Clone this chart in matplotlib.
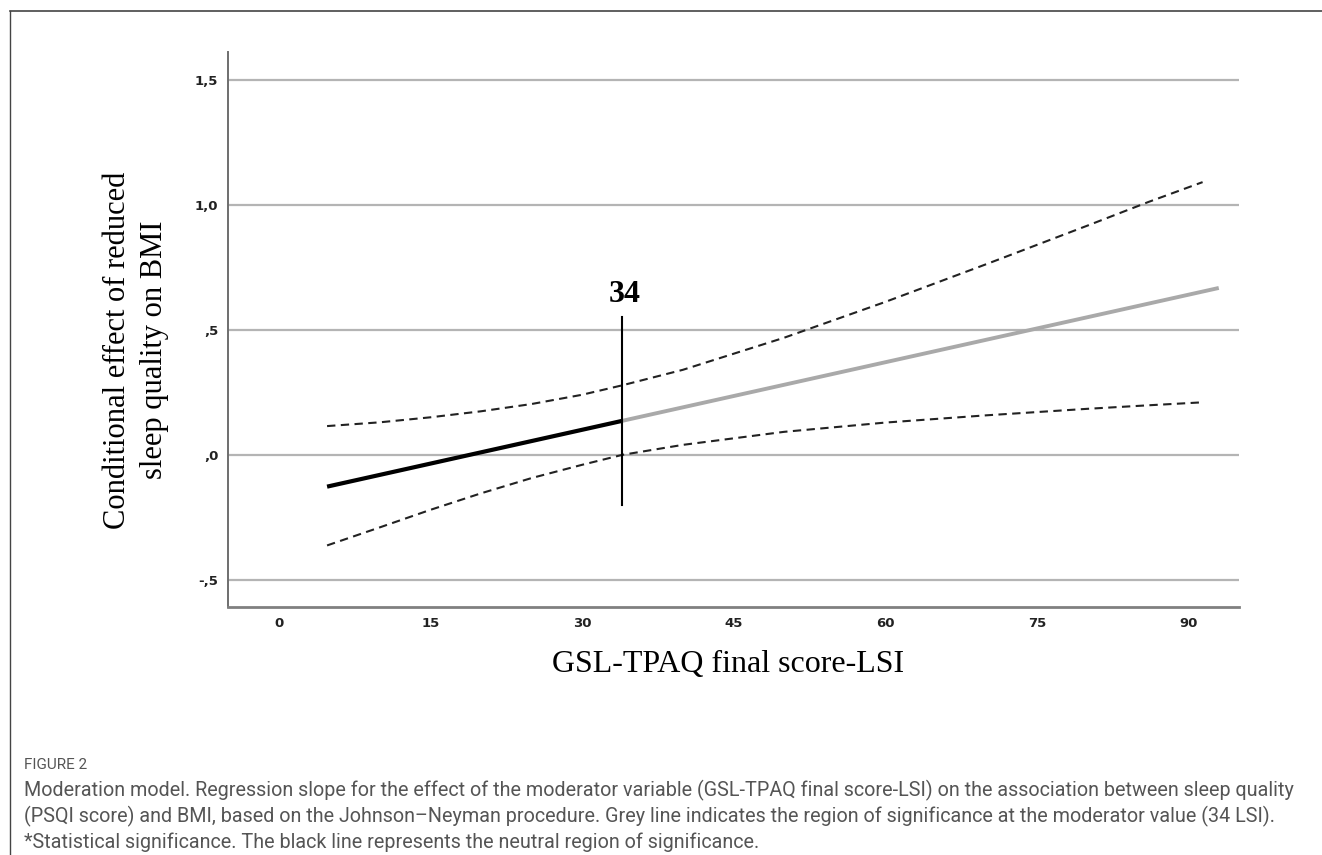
import matplotlib
matplotlib.use("Agg")
import matplotlib.pyplot as plt
from matplotlib.lines import Line2D

# ---- data ----
x_neutral = [4.8, 34.0]                 # black segment (non-significant region)
effect_neutral = [-0.127, 0.136]
x_signif = [34.0, 93.0]                 # grey segment (region of significance)
effect_signif = [0.136, 0.667]

x_ci = [4.8, 10, 15, 20, 25, 30, 34, 40, 50, 60, 70, 80, 86, 91.4]
ci_upper = [0.115, 0.130, 0.150, 0.174, 0.203, 0.240, 0.278, 0.340, 0.468, 0.611, 0.762, 0.916, 1.010, 1.090]
ci_lower = [-0.362, -0.290, -0.220, -0.154, -0.093, -0.040, 0.000, 0.040, 0.092, 0.129, 0.158, 0.184, 0.198, 0.210]

jn_value = 34
jn_span = [-0.20, 0.552]

y_ticks = [-0.5, 0.0, 0.5, 1.0, 1.5]
y_tick_labels = ["-,5", ",0", ",5", "1,0", "1,5"]
x_ticks = [0, 15, 30, 45, 60, 75, 90]
x_tick_labels = ["0", "15", "30", "45", "60", "75", "90"]

y_label = "Conditional effect of reduced\nsleep quality on BMI"
x_label = "GSL-TPAQ final score-LSI"
fig_label = "FIGURE 2"
caption_lines = [
    "Moderation model. Regression slope for the effect of the moderator variable (GSL-TPAQ final score-LSI) on the association between sleep quality",
    "(PSQI score) and BMI, based on the Johnson\u2013Neyman procedure. Grey line indicates the region of significance at the moderator value (34 LSI).",
    "*Statistical significance. The black line represents the neutral region of significance.",
]

# ---- figure ----
W, H = 1322, 855
fig = plt.figure(figsize=(W / 100, H / 100), dpi=100)
fig.patch.set_facecolor("white")

ax = fig.add_axes([228 / W, 1 - 607 / H, (1239 - 228) / W, (607 - 52) / H])
ax.set_xlim(-5, 95)
ax.set_ylim(-0.608, 1.61)

for y in y_ticks:
    ax.axhline(y, color="#b4b4b4", lw=1.6, zorder=1)

ax.plot(x_ci, ci_upper, color="#222222", lw=1.5, dashes=(4, 2.6), zorder=3)
ax.plot(x_ci, ci_lower, color="#222222", lw=1.5, dashes=(4, 2.6), zorder=3)
ax.plot(x_signif, effect_signif, color="#a9a9a9", lw=2.8, solid_capstyle="butt", zorder=4)
ax.plot(x_neutral, effect_neutral, color="#000000", lw=3.0, solid_capstyle="butt", zorder=5)
ax.plot([jn_value, jn_value], jn_span, color="#000000", lw=1.5, zorder=6)
ax.text(jn_value + 0.2, jn_span[1] + 0.03, str(jn_value), ha="center", va="bottom",
        family="Liberation Serif", fontweight="bold", fontsize=23)

for s in ["top", "right"]:
    ax.spines[s].set_visible(False)
ax.spines["left"].set_color("#6e6e6e")
ax.spines["left"].set_linewidth(1.4)
ax.spines["bottom"].set_color("#808080")
ax.spines["bottom"].set_linewidth(2.0)

ax.set_yticks(y_ticks)
ax.set_yticklabels(y_tick_labels)
ax.set_xticks(x_ticks)
ax.set_xticklabels(x_tick_labels)
ax.tick_params(length=0, labelsize=9.5, pad=7, colors="#222222")
for lab in ax.get_xticklabels() + ax.get_yticklabels():
    lab.set_fontweight("bold")
    lab.set_family("DejaVu Sans")

fig.text(136 / W, 1 - 350 / H, y_label, rotation=90, ha="center", va="center",
         family="Liberation Serif", fontsize=22, linespacing=1.4)
fig.text(728 / W, 1 - 664 / H, x_label, ha="center", va="center",
         family="Liberation Serif", fontsize=23)

# frame lines (left and top)
fig.add_artist(Line2D([9.5 / W, 9.5 / W], [0, 1 - 11 / H], color="#444444", lw=1.0))
fig.add_artist(Line2D([9.5 / W, 1], [1 - 11 / H, 1 - 11 / H], color="#444444", lw=1.2))

fig.text(24 / W, 1 - 765 / H, fig_label, ha="left", va="center",
         family="Roboto", fontsize=11, color="#555555")
for i, line in enumerate(caption_lines):
    fig.text(24 / W, 1 - (790 + 26 * i) / H, line, ha="left", va="center",
             family="Roboto", fontsize=14.2, color="#555555")

fig.savefig("out.png", dpi=100, facecolor="white")
